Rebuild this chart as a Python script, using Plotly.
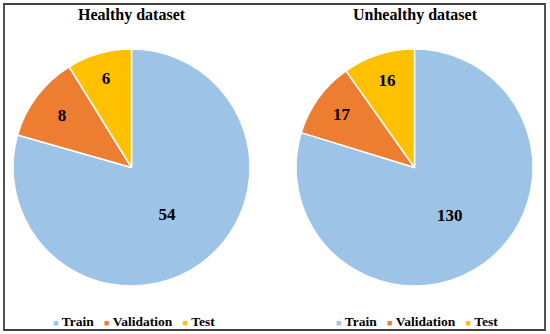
import plotly.graph_objects as go

labels = ["Train", "Validation", "Test"]
healthy = [54, 8, 6]
unhealthy = [130, 17, 16]
titles = ["Healthy dataset", "Unhealthy dataset"]
colors = ["#9DC3E6", "#ED7D31", "#FFC000"]

W, H = 550, 334
FONT = "Liberation Serif, Times New Roman, serif"

def px_x(v):
    return v / W

def px_y(v):
    return 1 - v / H

fig = go.Figure()
for vals, x0, x1 in [(healthy, 13, 250), (unhealthy, 296, 533)]:
    fig.add_trace(go.Pie(
        labels=labels, values=vals, sort=False, direction="clockwise", rotation=0,
        marker=dict(colors=colors, line=dict(color="white", width=1.5)),
        textinfo="value", textposition="inside", insidetextorientation="horizontal",
        textfont=dict(family=FONT, size=17, color="black", weight="bold"),
        domain=dict(x=[px_x(x0), px_x(x1)], y=[px_y(286), px_y(49)]),
        hoverinfo="label+value", showlegend=False,
    ))

sep = "\u00a0\u00a0\u00a0"
legend_text = sep.join(
    f"<span style='color:{c};font-size:9px'>■</span>\u00a0{l}" for l, c in zip(labels, colors)
)

annotations = []
for t, cx in zip(titles, [132, 415]):
    annotations.append(dict(
        text=t, x=px_x(cx), y=px_y(15), xref="paper", yref="paper",
        showarrow=False, xanchor="center", yanchor="middle",
        font=dict(family=FONT, size=16, color="black", weight="bold")))
    annotations.append(dict(
        text=legend_text, x=px_x(cx + 2), y=px_y(321), xref="paper", yref="paper",
        showarrow=False, xanchor="center", yanchor="middle",
        font=dict(family=FONT, size=13.5, color="black", weight="bold")))

fig.update_layout(
    width=W, height=H,
    margin=dict(l=0, r=0, t=0, b=0),
    paper_bgcolor="white", plot_bgcolor="white",
    showlegend=False,
    annotations=annotations,
    shapes=[
        dict(type="rect", xref="paper", yref="paper",
             x0=px_x(4), x1=px_x(545), y0=px_y(330), y1=px_y(4),
             line=dict(color="#404040", width=1.8)),
    ],
)

fig.write_html("out.html", config={"displayModeBar": False},
               post_script="document.body.style.margin='0';")
